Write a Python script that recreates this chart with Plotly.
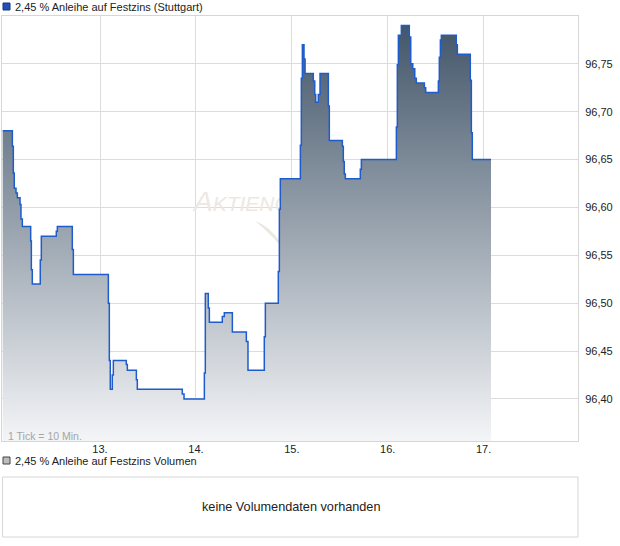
import plotly.graph_objects as go

# ---------------- data ----------------
title_main = "2,45 % Anleihe auf Festzins (Stuttgart)"
title_vol = "2,45 % Anleihe auf Festzins Volumen"
no_volume = "keine Volumendaten vorhanden"
tick_note = "1 Tick = 10 Min."
watermark = "A<span style='font-size:21px'>KTIENCHECK</span>"

day_ticks = [13, 14, 15, 16, 17]
day_labels = ["13.", "14.", "15.", "16.", "17."]
price_ticks = [96.40, 96.45, 96.50, 96.55, 96.60, 96.65, 96.70, 96.75]

# trading-time axis (1 unit = 1 trading day), step changes of the price
times = [
    11.985, 12.086, 12.096, 12.106, 12.124, 12.138, 12.166, 12.176, 12.190,
    12.277, 12.284, 12.294, 12.377, 12.388, 12.544, 12.555, 12.711, 12.722,
    13.087, 13.097, 13.107, 13.128, 13.139, 13.274, 13.285, 13.379, 13.389,
    13.858, 13.876,
    14.088, 14.098, 14.129, 14.140, 14.275, 14.296, 14.380, 14.526, 14.543,
    14.713, 14.724, 14.859, 14.870, 14.880,
    15.089, 15.099, 15.110, 15.127, 15.138, 15.224, 15.239, 15.249, 15.276,
    15.294, 15.381, 15.391, 15.527, 15.537, 15.547, 15.558, 15.714, 15.725,
    16.090, 16.100, 16.111, 16.142, 16.225, 16.240, 16.261, 16.282, 16.298,
    16.382, 16.396, 16.528, 16.538, 16.549, 16.559, 16.715, 16.726, 16.861,
    16.872, 16.882, 17.077,
]
prices = [
    96.680, 96.664, 96.636, 96.620, 96.615, 96.610, 96.603, 96.588, 96.580,
    96.565, 96.535, 96.520, 96.545, 96.570, 96.575, 96.580, 96.556, 96.530,
    96.500, 96.440, 96.410, 96.425, 96.440, 96.436, 96.430, 96.420, 96.410,
    96.405, 96.400,
    96.427, 96.510, 96.495, 96.480, 96.486, 96.490, 96.470, 96.460, 96.430,
    96.465, 96.500, 96.533, 96.598, 96.630,
    96.665, 96.735, 96.770, 96.755, 96.740, 96.732, 96.718, 96.710, 96.718,
    96.740, 96.706, 96.670, 96.664, 96.648, 96.635, 96.630, 96.640, 96.650,
    96.684, 96.749, 96.780, 96.790, 96.778, 96.750, 96.745, 96.735, 96.730,
    96.725, 96.720, 96.732, 96.757, 96.775, 96.780, 96.770, 96.760, 96.733,
    96.678, 96.650, 96.650,
]

X_RANGE = [11.978, 17.984]
Y_RANGE = [96.356, 96.800]

# ---------------- layout helpers ----------------
W, H = 620, 546
L, R, T, B = 2, 42, 16, 105
PW, PH = W - L - R, H - T - B


def px(xpix):
    return (xpix - L) / PW


def py(ypix):
    return (H - B - ypix) / PH


font_family = "Liberation Sans, Arial, sans-serif"

fig = go.Figure()

# watermark (below the area fill)
wm_x = X_RANGE[0] + px(194) * (X_RANGE[1] - X_RANGE[0])
wm_y = Y_RANGE[0] + py(204) * (Y_RANGE[1] - Y_RANGE[0])
fig.add_trace(go.Scatter(
    x=[wm_x], y=[wm_y], mode="text", text=[watermark],
    textposition="middle right",
    textfont=dict(family=font_family, size=28, color="#ede8e2", style="italic"),
    hoverinfo="skip", showlegend=False,
))

fig.add_trace(go.Scatter(
    x=times, y=prices, mode="lines",
    line=dict(color="#1f5ccb", width=1.5, shape="hv"),
    fill="tozeroy",
    fillgradient=dict(type="vertical",
                      colorscale=[[0, "#f4f5f7"], [1, "#43566a"]],
                      start=Y_RANGE[0], stop=96.79),
    hoverinfo="skip", showlegend=False,
))

shapes = [
    # watermark swoosh
    dict(type="path", xref="paper", yref="paper", layer="below",
         path=(f"M {px(255)} {py(221)} Q {px(274)} {py(228)} {px(286)} {py(252)} "
               f"Q {px(271)} {py(234)} {px(255)} {py(221)} Z"),
         fillcolor="#ece7e1", line=dict(width=0)),
    # legend squares
    dict(type="rect", xref="paper", yref="paper",
         x0=px(3), x1=px(10), y0=py(3), y1=py(10),
         fillcolor="#2050b8", line=dict(color="#1a3570", width=1)),
    dict(type="rect", xref="paper", yref="paper",
         x0=px(3), x1=px(10), y0=py(457), y1=py(464),
         fillcolor="#bdbdbd", line=dict(color="#444444", width=1)),
    # volume panel
    dict(type="rect", xref="paper", yref="paper",
         x0=px(2.5), x1=px(578), y0=py(477), y1=py(537),
         fillcolor="rgba(0,0,0,0)", line=dict(color="#d6d6d6", width=1)),
]

annotations = [
    dict(text=title_main, xref="paper", yref="paper", x=px(13), y=py(7),
         xanchor="left", yanchor="middle", showarrow=False,
         font=dict(family=font_family, size=11, color="#222222")),
    dict(text=title_vol, xref="paper", yref="paper", x=px(13), y=py(461),
         xanchor="left", yanchor="middle", showarrow=False,
         font=dict(family=font_family, size=11, color="#222222")),
    dict(text=tick_note, xref="paper", yref="paper", x=px(6), y=py(435.5),
         xanchor="left", yanchor="middle", showarrow=False,
         font=dict(family=font_family, size=10.5, color="#a5a5a5")),
    dict(text=no_volume, xref="paper", yref="paper", x=px(291), y=py(507),
         xanchor="center", yanchor="middle", showarrow=False,
         font=dict(family=font_family, size=12.7, color="#222222")),
]

fig.update_layout(
    width=W, height=H,
    margin=dict(l=L, r=R, t=T, b=B, pad=0),
    paper_bgcolor="white", plot_bgcolor="white",
    separators=",.",
    showlegend=False,
    font=dict(family=font_family, size=11, color="#222222"),
    shapes=shapes, annotations=annotations,
    xaxis=dict(range=X_RANGE, tickvals=day_ticks, ticktext=day_labels,
               showgrid=True, gridcolor="#dcdcdc", gridwidth=1,
               showline=True, mirror=True, linecolor="#d6d6d6", linewidth=1,
               zeroline=False, ticks="", ticklabelstandoff=-2, fixedrange=True),
    yaxis=dict(range=Y_RANGE, side="right", tickvals=price_ticks, tickformat=".2f",
               showgrid=True, gridcolor="#dcdcdc", gridwidth=1,
               showline=True, mirror=True, linecolor="#d6d6d6", linewidth=1,
               zeroline=False, ticks="", ticklabelstandoff=4, fixedrange=True),
)

fig.write_html(
    "out.html",
    config={"displayModeBar": False},
    post_script="document.body.style.margin='0';document.body.style.padding='0';",
)
